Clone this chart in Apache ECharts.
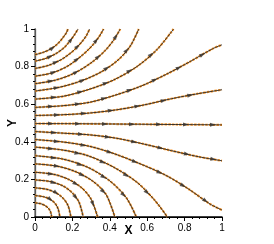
<!DOCTYPE html>
<html><head><meta charset="utf-8">
<script src="https://cdn.jsdelivr.net/npm/echarts@6/dist/echarts.min.js"></script>
<style>html,body{margin:0;padding:0;background:#fff}#c{width:274px;height:244px}</style>
</head><body><div id="c"></div>
<script>
// Tick labels
var xTicks = [0, 0.2, 0.4, 0.6, 0.8, 1];
var yTicks = [0, 0.2, 0.4, 0.6, 0.8, 1];
// Streamlines (x, y), ordered in flow direction
var midLine = [[0,0.497],[0.25,0.496],[0.5,0.494],[0.75,0.492],[1,0.490]];
var lower1 = [[0,0.4545],[0.150,0.446],[0.292,0.437],[0.435,0.419],[0.578,0.389],[0.729,0.353],[0.872,0.321],[1,0.299]];
var lower2 = [[0,0.412],[0.150,0.399],[0.292,0.376],[0.417,0.339],[0.562,0.283],[0.701,0.221],[0.821,0.149],[0.936,0.069],[1,0.037]];
var lower3 = [[0,0.372],[0.150,0.356],[0.283,0.326],[0.417,0.267],[0.545,0.185],[0.642,0.087],[0.708,0]];
var lower4 = [[0,0.326],[0.150,0.308],[0.283,0.264],[0.399,0.193],[0.488,0.103],[0.542,0]];
var lower5 = [[0,0.283],[0.12,0.27],[0.22,0.24],[0.31,0.19],[0.38,0.12],[0.427,0]];
var lower6 = [[0,0.238],[0.1,0.227],[0.18,0.20],[0.25,0.155],[0.30,0.095],[0.335,0]];
var lower7 = [[0,0.197],[0.08,0.189],[0.15,0.165],[0.2,0.128],[0.235,0.08],[0.258,0]];
var lower8 = [[0,0.155],[0.06,0.148],[0.11,0.13],[0.15,0.1],[0.177,0.06],[0.192,0]];
var lower9 = [[0,0.114],[0.045,0.108],[0.08,0.095],[0.108,0.072],[0.124,0.042],[0.133,0]];
var lower10 = [[0,0.075],[0.03,0.071],[0.055,0.06],[0.073,0.045],[0.084,0.025],[0.089,0]];
var upper1 = [[0,0.540],[0.150,0.544],[0.292,0.553],[0.435,0.570],[0.578,0.595],[0.729,0.629],[0.872,0.656],[1,0.677]];
var upper2 = [[0,0.583],[0.150,0.592],[0.292,0.610],[0.426,0.647],[0.569,0.697],[0.702,0.759],[0.828,0.826],[0.95,0.895],[1,0.916]];
var upper3 = [[0,0.627],[0.150,0.642],[0.283,0.677],[0.417,0.727],[0.545,0.80],[0.651,0.889],[0.741,1]];
var upper4 = [[0,0.670],[0.13,0.69],[0.25,0.725],[0.36,0.775],[0.45,0.84],[0.51,0.91],[0.555,1]];
var upper5 = [[0,0.709],[0.11,0.728],[0.21,0.765],[0.30,0.82],[0.37,0.88],[0.42,0.94],[0.456,1]];
var upper6 = [[0,0.749],[0.09,0.766],[0.17,0.80],[0.24,0.85],[0.30,0.905],[0.34,0.955],[0.367,1]];
var upper7 = [[0,0.790],[0.07,0.806],[0.14,0.837],[0.2,0.88],[0.245,0.925],[0.275,0.965],[0.292,1]];
var upper8 = [[0,0.829],[0.06,0.844],[0.11,0.868],[0.155,0.9],[0.19,0.94],[0.215,0.975],[0.230,1]];
var upper9 = [[0,0.863],[0.045,0.876],[0.09,0.897],[0.125,0.925],[0.15,0.955],[0.168,0.98],[0.176,1]];

var streamlines = [midLine, lower1, lower2, lower3, lower4, lower5, lower6, lower7, lower8, lower9, lower10,
  upper1, upper2, upper3, upper4, upper5, upper6, upper7, upper8, upper9];

var chart = echarts.init(document.getElementById('c'), null, {renderer: 'canvas'});
var FONT = 'Liberation Sans';
var series = [];
streamlines.forEach(function (s) {
  series.push({type: 'line', data: s, smooth: 0.3, showSymbol: false, silent: true, z: 2,
    lineStyle: {color: '#ff9a2a', width: 2.2, type: [2.5, 1.2]}});
});
streamlines.forEach(function (s) {
  series.push({type: 'line', data: s, smooth: 0.3, showSymbol: false, silent: true, z: 3,
    lineStyle: {color: '#222', width: 0.9}});
});

var axisCommon = {
  type: 'value', min: 0, max: 1, interval: 0.2,
  splitLine: {show: false},
  axisLine: {show: true, lineStyle: {color: '#000', width: 1.2}},
  axisTick: {show: true, inside: false, length: 4, lineStyle: {color: '#000'}},
  minorTick: {show: true, splitNumber: 5, length: 2, lineStyle: {color: '#000'}},
  axisLabel: {color: '#000', fontFamily: FONT, fontSize: 10, margin: 6,
    formatter: function (v) { return String(Math.round(v * 10) / 10); }},
  nameLocation: 'middle',
  nameMoveOverlap: false,
  nameTextStyle: {fontFamily: FONT, fontSize: 12, fontWeight: 'bold', color: '#000'}
};
var option = {
  animation: false,
  grid: {left: 35, right: 52, top: 29, bottom: 27, containLabel: false, outerBoundsMode: 'none'},
  xAxis: [
    Object.assign({}, axisCommon, {name: 'X', nameGap: 8}),
    {type: 'value', min: 0, max: 1, position: 'top', axisLine: {show: true, lineStyle: {color: '#000', width: 1.5}},
      axisTick: {show: false}, axisLabel: {show: false}, splitLine: {show: false}}
  ],
  yAxis: [
    Object.assign({}, axisCommon, {name: 'Y', nameGap: 16}),
    {type: 'value', min: 0, max: 1, position: 'right', axisLine: {show: true, lineStyle: {color: '#777', width: 1.5}},
      axisTick: {show: false}, axisLabel: {show: false}, splitLine: {show: false}}
  ],
  series: series
};
chart.setOption(option);

// Arrowheads placed along each streamline at regular pixel spacing
var arrows = [];
streamlines.forEach(function (s, li) {
  var px = s.map(function (p) { return chart.convertToPixel({gridIndex: 0}, p); });
  var total = 0, segs = [];
  for (var i = 1; i < px.length; i++) {
    var dx = px[i][0] - px[i-1][0], dy = px[i][1] - px[i-1][1];
    var L = Math.sqrt(dx*dx + dy*dy);
    segs.push({a: px[i-1], dx: dx, dy: dy, L: L, start: total});
    total += L;
  }
  var spacing = 27;
  var d = 16 + (li % 3) * 3;
  while (d < total - 8) {
    for (var k = 0; k < segs.length; k++) {
      var sg = segs[k];
      if (d >= sg.start && d <= sg.start + sg.L) {
        var t = (d - sg.start) / sg.L;
        var p = [sg.a[0] + sg.dx * t, sg.a[1] + sg.dy * t];
        var val = chart.convertFromPixel({gridIndex: 0}, p);
        var ang = Math.atan2(-sg.dy, sg.dx) * 180 / Math.PI - 90;
        arrows.push({value: val, symbolRotate: ang});
        break;
      }
    }
    d += spacing;
  }
});
series.push({type: 'scatter', data: arrows, symbol: 'triangle', symbolSize: [4, 6], silent: true, z: 5,
  itemStyle: {color: '#333'}});
chart.setOption({series: series});
</script></body></html>
